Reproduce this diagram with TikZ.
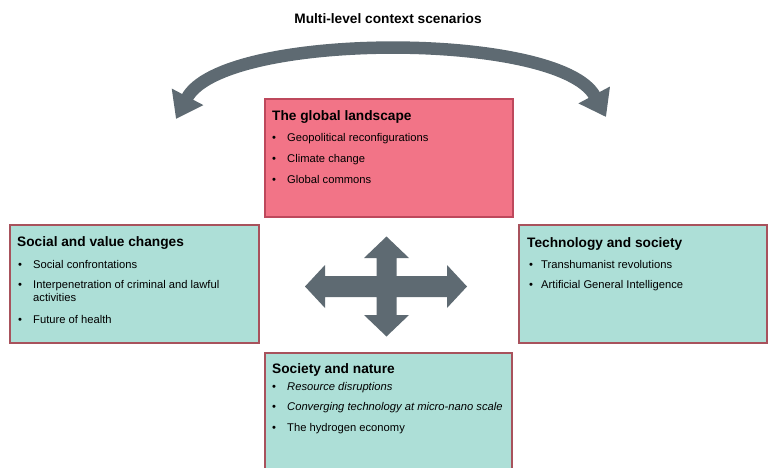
\documentclass[tikz,border=0pt]{standalone}
\usepackage{fontspec}
\setmainfont{Liberation Sans}
\usetikzlibrary{arrows.meta}

\definecolor{landpink}{RGB}{242,116,135}
\definecolor{landedge}{RGB}{190,72,92}
\definecolor{boxteal}{RGB}{173,223,215}
\definecolor{boxedge}{RGB}{168,82,92}
\definecolor{arrowgrey}{RGB}{94,106,114}

\newcommand{\headfont}{\fontsize{13.7}{16}\selectfont\bfseries}
\newcommand{\itemfont}{\fontsize{11.2}{13}\selectfont}

\begin{document}
\begin{tikzpicture}[x=1pt,y=-1pt]

	\tikzstyle{pinkbox}=[fill=landpink,draw=landedge,line width=1.3pt]
	\tikzstyle{tealbox}=[fill=boxteal,draw=boxedge,line width=1.3pt]
	\tikzstyle{heading}=[inner sep=0pt,anchor=base west,font=\headfont]
	\tikzstyle{itemtext}=[inner sep=0pt,anchor=base west,font=\itemfont]
	\tikzstyle{bigarrow}=[arrowgrey,line width=12.5pt,{Triangle[width=34pt,length=25pt]}-{Triangle[width=34pt,length=25pt]}]

	\clip (0,0) rectangle (773,468);

	\node[inner sep=0pt,anchor=base,font=\headfont] (title) at (388,24) {Multi-level context scenarios};

	% curved arrow over the top box
	\coordinate (lefttip) at (176,119);
	\coordinate (righttip) at (606,117);
	\draw[bigarrow] (lefttip) .. controls (222,31) and (560,31) .. (righttip);

	% the global landscape
	\draw[pinkbox] (265,99) rectangle (513,217);
	\node[heading] (land) at (272,121) {The global landscape};
	\foreach \n / \y / \t in {1/141/Geopolitical reconfigurations,2/162/Climate change,3/183/Global commons}{
		\node[itemtext] (land-\n-dot) at (272,\y) {\textbullet};
		\node[itemtext] (land-\n) at (287,\y) {\t};}

	% social and value changes
	\draw[tealbox] (10,225) rectangle (259,343);
	\node[heading] (social) at (17,246) {Social and value changes};
	\foreach \n / \y / \t in {1/268/Social confrontations,2/288/Interpenetration of criminal and lawful,3/323/Future of health}{
		\node[itemtext] (social-\n-dot) at (18,\y) {\textbullet};
		\node[itemtext] (social-\n) at (33,\y) {\t};}
	\node[itemtext] (social-2b) at (33,301) {activities};

	% technology and society
	\draw[tealbox] (519,225) rectangle (767,343);
	\node[heading] (tech) at (527,247) {Technology and society};
	\foreach \n / \y / \t in {1/268/Transhumanist revolutions,2/288/Artificial General Intelligence}{
		\node[itemtext] (tech-\n-dot) at (529,\y) {\textbullet};
		\node[itemtext] (tech-\n) at (541,\y) {\t};}

	% society and nature
	\draw[tealbox] (265,353) rectangle (512,480);
	\node[heading] (nature) at (272,373) {Society and nature};
	\foreach \n / \y / \t in {1/390/\textit{Resource disruptions},2/410/\textit{Converging technology at micro-nano scale},3/431/The hydrogen economy}{
		\node[itemtext] (nature-\n-dot) at (272,\y) {\textbullet};
		\node[itemtext] (nature-\n) at (287,\y) {\t};}

	% four-way arrow in the middle
	\fill[arrowgrey,shift={(386.5,286.5)}] (0,-50) -- (22.5,-28.5) -- (10,-28.5) -- (10,-10.5) -- (60.5,-10.5) -- (60.5,-21.5)
		-- (80.5,0) -- (60.5,21.5) -- (60.5,10.5) -- (10,10.5) -- (10,28.5) -- (22.5,28.5) -- (0,50) -- (-22.5,28.5)
		-- (-10,28.5) -- (-10,10.5) -- (-61.5,10.5) -- (-61.5,21.5) -- (-81.5,0) -- (-61.5,-21.5) -- (-61.5,-10.5)
		-- (-10,-10.5) -- (-10,-28.5) -- (-22.5,-28.5) -- cycle;
\end{tikzpicture}
\end{document}
